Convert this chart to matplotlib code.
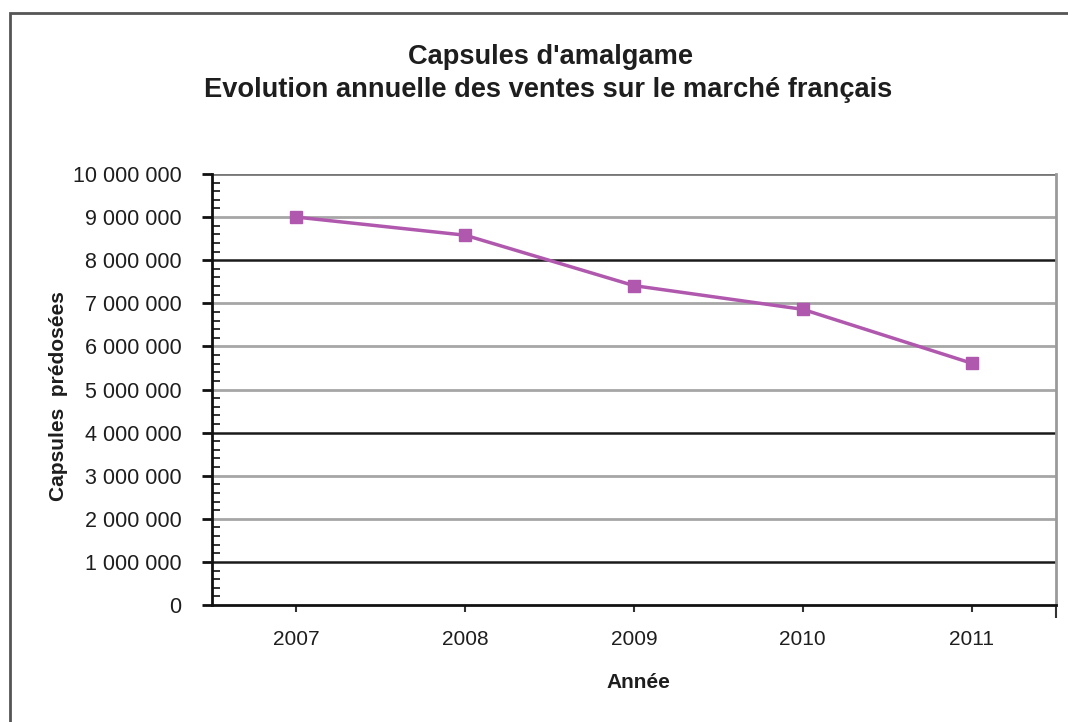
import matplotlib
matplotlib.use("Agg")
import matplotlib.pyplot as plt
from matplotlib.ticker import FuncFormatter, MultipleLocator, FixedLocator
from matplotlib.patches import Rectangle

plt.rcParams['font.family'] = ['Liberation Sans', 'DejaVu Sans']

years = ["2007", "2008", "2009", "2010", "2011"]
ventes = [9_000_000, 8_580_000, 7_410_000, 6_860_000, 5_610_000]
title_lines = ["Capsules d'amalgame", "Evolution annuelle des ventes sur le marché français"]
y_label = "Capsules  prédosées"
x_label = "Année"

fig = plt.figure(figsize=(10.68, 7.22), dpi=100)
fig.patch.set_facecolor('white')

# outer frame
fig.patches.append(Rectangle((10/1068, -0.05), 1.2, 1 - 13/722 + 0.05, transform=fig.transFigure,
                             fill=False, edgecolor='#555555', linewidth=2.0, zorder=0))

ax = fig.add_axes([212/1068, 1 - 605/722, (1056-212)/1068, (605-174)/722])
x = list(range(len(years)))
ax.set_xlim(-0.5, len(years) - 0.5)
ax.set_ylim(0, 10_000_000)

# gridlines
for v in range(1_000_000, 10_000_001, 1_000_000):
    if v in (1_000_000, 4_000_000, 8_000_000):
        c, lw = '#1a1a1a', 1.8
    elif v == 10_000_000:
        c, lw = '#777777', 2.0
    else:
        c, lw = '#a6a6a6', 2.0
    ax.axhline(v, color=c, linewidth=lw, zorder=1)

ax.plot(x, ventes, color='#B058AE', linewidth=2.5, marker='s', markersize=9,
        markerfacecolor='#B058AE', markeredgecolor='#B058AE', zorder=3, clip_on=False)

ax.spines['top'].set_visible(False)
ax.spines['right'].set_color('#9a9a9a')
ax.spines['right'].set_linewidth(2)
ax.spines['left'].set_color('#111111')
ax.spines['left'].set_linewidth(2)
ax.spines['bottom'].set_color('#111111')
ax.spines['bottom'].set_linewidth(2)

ax.yaxis.set_major_locator(MultipleLocator(1_000_000))
ax.yaxis.set_minor_locator(MultipleLocator(200_000))
ax.yaxis.set_major_formatter(FuncFormatter(lambda v, p: f"{int(round(v)):,}".replace(",", " ")))
ax.tick_params(axis='y', which='major', direction='out', length=7, width=2, color='#111111',
               labelsize=15.5, labelcolor='#1e1e1e', pad=15)
ax.tick_params(axis='y', which='minor', direction='in', length=6, width=1.2, color='#111111')

ax.set_xticks(x)
ax.set_xticklabels(years)
ax.xaxis.set_minor_locator(FixedLocator([len(years) - 0.5]))
ax.tick_params(axis='x', which='major', direction='out', length=5, width=1.5, color='#333333',
               labelsize=15, labelcolor='#1e1e1e', pad=13)
ax.tick_params(axis='x', which='minor', direction='out', length=9, width=1.5, color='#333333')

fig.text(550/1068, 1 - 57/722, title_lines[0], ha='center', va='center', fontsize=19.6,
         fontweight='bold', color='#1e1e1e')
fig.text(548/1068, 1 - 90/722, title_lines[1], ha='center', va='center', fontsize=19.6,
         fontweight='bold', color='#1e1e1e')
fig.text(58/1068, 1 - 396/722, y_label, ha='center', va='center', rotation=90, fontsize=15,
         fontweight='bold', color='#1e1e1e')
fig.text(638/1068, 1 - 682/722, x_label, ha='center', va='center', fontsize=15,
         fontweight='bold', color='#1e1e1e')

fig.savefig('out.png', dpi=100)
